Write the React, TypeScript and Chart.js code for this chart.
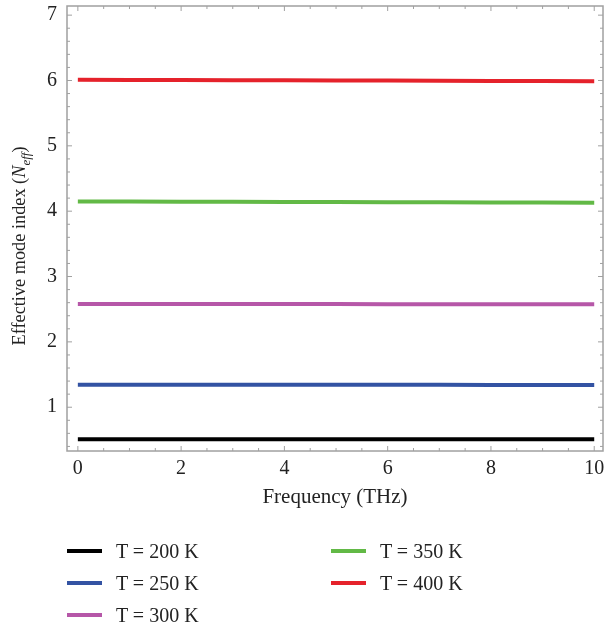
import React, { useEffect, useRef } from "react";
import { Chart, registerables } from "chart.js";

Chart.register(...registerables);

// Frequency samples (THz)
const frequency = [0, 1, 2, 3, 4, 5, 6, 7, 8, 9, 10];

// Effective mode index at each temperature
const nEff200 = [0.51, 0.51, 0.51, 0.51, 0.51, 0.51, 0.51, 0.51, 0.51, 0.51, 0.51];
const nEff250 = [1.345, 1.345, 1.344, 1.344, 1.343, 1.343, 1.342, 1.342, 1.341, 1.341, 1.34];
const nEff300 = [2.58, 2.58, 2.579, 2.579, 2.578, 2.578, 2.577, 2.577, 2.576, 2.576, 2.575];
const nEff350 = [4.15, 4.148, 4.146, 4.144, 4.142, 4.14, 4.138, 4.136, 4.134, 4.132, 4.13];
const nEff400 = [6.01, 6.008, 6.006, 6.004, 6.002, 6.0, 5.998, 5.996, 5.994, 5.992, 5.99];

const seriesLabels = ["T = 200 K", "T = 250 K", "T = 300 K", "T = 350 K", "T = 400 K"];
const seriesColors = ["#000000", "#3353a3", "#b657a8", "#62b946", "#e5222b"];
const seriesValues = [nEff200, nEff250, nEff300, nEff350, nEff400];

const xTicks = [0, 2, 4, 6, 8, 10];
const yTicks = [1, 2, 3, 4, 5, 6, 7];

const FONT = "'Liberation Serif', 'DejaVu Serif', serif";
const FRAME = "#a0a0a0";

// Boxed frame with small inward ticks on all four sides
const framePlugin = {
  id: "frame",
  afterDatasetsDraw(chart: any) {
    const { ctx, chartArea: a, scales } = chart;
    const xs = scales.x;
    const ys = scales.y;
    ctx.save();
    ctx.strokeStyle = FRAME;
    ctx.lineWidth = 1.5;
    ctx.strokeRect(a.left, a.top, a.right - a.left, a.bottom - a.top);
    ctx.lineWidth = 1;
    for (let v = 0; v <= 10.001; v += 0.5) {
      const px = xs.getPixelForValue(v);
      const len = Math.abs(v % 2) < 1e-6 ? 5 : 3;
      ctx.beginPath();
      ctx.moveTo(px, a.bottom);
      ctx.lineTo(px, a.bottom - len);
      ctx.moveTo(px, a.top);
      ctx.lineTo(px, a.top + len);
      ctx.stroke();
    }
    for (let v = 0.4; v <= 7.001; v += 0.2) {
      const py = ys.getPixelForValue(v);
      const len = Math.abs(v - Math.round(v)) < 1e-6 ? 5 : 3;
      ctx.beginPath();
      ctx.moveTo(a.left, py);
      ctx.lineTo(a.left + len, py);
      ctx.moveTo(a.right, py);
      ctx.lineTo(a.right - len, py);
      ctx.stroke();
    }
    ctx.restore();
  },
};

// Vertical axis title with italic N and subscript "eff"
const yTitlePlugin = {
  id: "yTitle",
  afterDraw(chart: any) {
    const { ctx } = chart;
    const parts = [
      { text: "Effective mode index (", font: `18.3px ${FONT}`, dy: 0 },
      { text: "N", font: `italic 18.3px ${FONT}`, dy: 0 },
      { text: "eff", font: `italic 13px ${FONT}`, dy: 5 },
      { text: ")", font: `18.3px ${FONT}`, dy: 0 },
    ];
    ctx.save();
    let total = 0;
    const widths = parts.map((p) => {
      ctx.font = p.font;
      const w = ctx.measureText(p.text).width;
      total += w;
      return w;
    });
    ctx.translate(25, 246);
    ctx.rotate(-Math.PI / 2);
    ctx.fillStyle = "#222";
    ctx.textBaseline = "alphabetic";
    ctx.textAlign = "left";
    let x = -total / 2;
    parts.forEach((p, i) => {
      ctx.font = p.font;
      ctx.fillText(p.text, x, p.dy);
      x += widths[i];
    });
    ctx.restore();
  },
};

function LegendItem({ label, color, left, top }: { label: string; color: string; left: number; top: number }) {
  return (
    <div style={{ position: "absolute", left, top, height: 24, display: "flex", alignItems: "center" }}>
      <div style={{ width: 35, height: 4, background: color }} />
      <span style={{ marginLeft: 14, fontFamily: FONT, fontSize: 20, color: "#222", whiteSpace: "nowrap" }}>{label}</span>
    </div>
  );
}

export default function App() {
  const canvasRef = useRef<HTMLCanvasElement | null>(null);

  useEffect(() => {
    if (!canvasRef.current) return;
    const chart = new Chart(canvasRef.current, {
      type: "line",
      data: {
        labels: frequency,
        datasets: seriesValues.map((vals, i) => ({
          label: seriesLabels[i],
          data: vals.map((v, j) => ({ x: frequency[j], y: v })),
          borderColor: seriesColors[i],
          backgroundColor: seriesColors[i],
          borderWidth: 4,
          pointRadius: 0,
          tension: 0,
        })),
      },
      options: {
        animation: false,
        responsive: false,
        maintainAspectRatio: false,
        layout: { padding: { left: 0, top: 6, right: 1, bottom: 121 } },
        plugins: { legend: { display: false }, tooltip: { enabled: false } },
        scales: {
          x: {
            type: "linear",
            min: -0.21,
            max: 10.17,
            grid: { display: false, drawTicks: false },
            border: { display: false },
            afterBuildTicks: (s: any) => {
              s.ticks = xTicks.map((v) => ({ value: v }));
            },
            afterFit: (s: any) => {
              s.paddingLeft = 0;
              s.paddingRight = 0;
            },
            ticks: {
              padding: 6,
              color: "#222",
              font: { family: FONT, size: 20 },
              maxRotation: 0,
              callback: (v: any) => String(v),
            },
            title: {
              display: true,
              text: "Frequency (THz)",
              color: "#222",
              font: { family: FONT, size: 21, lineHeight: 1 },
              padding: { top: 0, bottom: 0 },
            },
          },
          y: {
            type: "linear",
            min: 0.33,
            max: 7.14,
            grid: { display: false, drawTicks: false },
            border: { display: false },
            afterBuildTicks: (s: any) => {
              s.ticks = yTicks.map((v) => ({ value: v }));
            },
            afterFit: (s: any) => {
              s.width = 67;
              s.paddingTop = 0;
              s.paddingBottom = 0;
            },
            ticks: {
              padding: 10,
              color: "#222",
              font: { family: FONT, size: 20 },
              callback: (v: any) => String(v),
            },
          },
        },
      },
      plugins: [framePlugin, yTitlePlugin],
    });
    return () => chart.destroy();
  }, []);

  return (
    <div style={{ position: "absolute", left: 0, top: 0, width: 604, height: 629, background: "#fff" }}>
      <canvas ref={canvasRef} width={604} height={629} style={{ display: "block" }} />
      <LegendItem label={seriesLabels[0]} color={seriesColors[0]} left={67} top={539} />
      <LegendItem label={seriesLabels[1]} color={seriesColors[1]} left={67} top={571} />
      <LegendItem label={seriesLabels[2]} color={seriesColors[2]} left={67} top={603} />
      <LegendItem label={seriesLabels[3]} color={seriesColors[3]} left={331} top={539} />
      <LegendItem label={seriesLabels[4]} color={seriesColors[4]} left={331} top={571} />
    </div>
  );
}
